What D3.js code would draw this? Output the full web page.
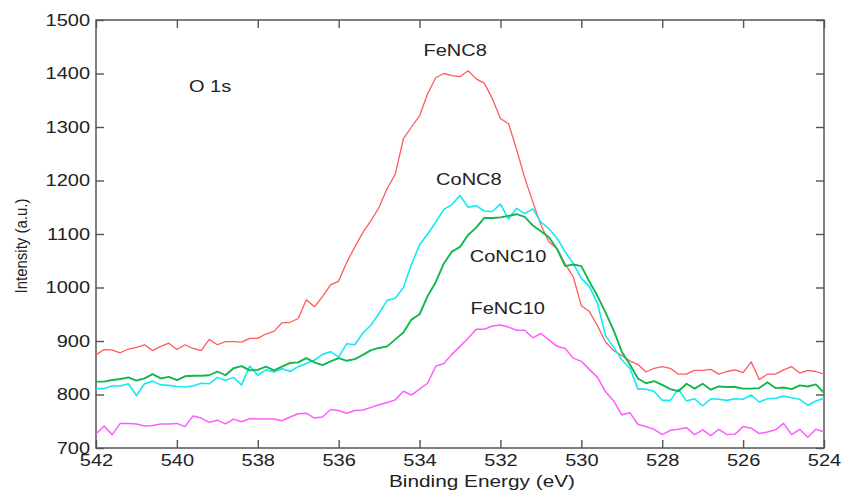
<!DOCTYPE html>
<html>
<head>
<meta charset="utf-8">
<script src="https://cdn.jsdelivr.net/npm/d3@7"></script>
<style>
  html, body { margin: 0; padding: 0; background: #fff; }
  svg { display: block; }
  text { font-family: "Liberation Sans", Arial, sans-serif; fill: #222; }
</style>
</head>
<body>
<svg id="chart" width="850" height="494"></svg>
<script>
// Binding energy (eV), 0.2 eV steps
const energy = [
  542.0,541.8,541.6,541.4,541.2,541.0,540.8,540.6,540.4,540.2,
  540.0,539.8,539.6,539.4,539.2,539.0,538.8,538.6,538.4,538.2,
  538.0,537.8,537.6,537.4,537.2,537.0,536.8,536.6,536.4,536.2,
  536.0,535.8,535.6,535.4,535.2,535.0,534.8,534.6,534.4,534.2,
  534.0,533.8,533.6,533.4,533.2,533.0,532.8,532.6,532.4,532.2,
  532.0,531.8,531.6,531.4,531.2,531.0,530.8,530.6,530.4,530.2,
  530.0,529.8,529.6,529.4,529.2,529.0,528.8,528.6,528.4,528.2,
  528.0,527.8,527.6,527.4,527.2,527.0,526.8,526.6,526.4,526.2,
  526.0,525.8,525.6,525.4,525.2,525.0,524.8,524.6,524.4,524.2,
  524.0
];

const feNC8 = [
  874,884,883,878,885,888,893,882,890,896,
  884,893,886,882,903,893,899,899,898,905,
  905,913,918,934,935,942,977,964,983,1005,
  1012,1047,1076,1103,1125,1150,1185,1212,1278,1300,
  1321,1362,1392,1400,1396,1394,1405,1390,1382,1353,
  1316,1306,1258,1205,1160,1117,1085,1073,1044,1020,
  966,955,928,898,882,873,863,856,842,849,
  852,849,838,838,845,845,847,838,843,846,
  841,861,828,838,838,846,852,840,845,843,
  838
];

const coNC8 = [
  811,811,816,816,820,798,820,825,818,817,
  815,814,816,821,820,832,826,832,818,853,
  836,846,842,848,843,852,858,864,875,880,
  870,895,893,915,930,952,976,980,1000,1043,
  1080,1100,1122,1146,1155,1172,1150,1153,1143,1142,
  1156,1128,1148,1138,1147,1122,1110,1092,1067,1045,
  1017,1002,970,910,888,865,849,810,810,806,
  789,789,810,788,792,779,792,791,789,792,
  791,799,786,792,793,797,794,791,780,788,
  793
];

const coNC10 = [
  824,824,827,829,832,826,830,838,830,833,
  827,834,835,835,836,843,836,849,853,845,
  846,852,845,852,859,860,868,860,855,862,
  868,863,866,874,883,887,890,903,916,940,
  950,984,1010,1045,1067,1076,1098,1112,1130,1130,
  1131,1134,1137,1132,1116,1105,1094,1072,1040,1043,
  1040,1011,984,953,920,880,856,830,821,825,
  818,810,806,820,811,820,809,815,814,814,
  811,811,812,823,812,813,810,817,815,819,
  803
];

const feNC10 = [
  726,741,725,746,746,745,741,742,745,745,
  746,740,760,756,748,752,745,754,749,755,
  754,754,754,751,758,764,765,756,758,772,
  770,765,770,771,776,781,785,790,806,799,
  810,821,853,858,875,890,905,922,922,928,
  930,926,920,920,906,914,902,890,886,868,
  862,847,832,805,788,762,766,744,740,735,
  725,733,735,738,725,734,723,735,725,726,
  740,737,727,730,734,746,725,735,720,735,
  730
];

const seriesNames = ["FeNC8", "CoNC8", "CoNC10", "FeNC10"];
const seriesValues = [feNC8, coNC8, coNC10, feNC10];
const seriesColors = ["#ff5b5b", "#14e8f5", "#12b74c", "#ff5cff"];
const seriesWidths = [1.3, 1.6, 1.9, 1.5];

const xTicks = [542, 540, 538, 536, 534, 532, 530, 528, 526, 524];
const yTicks = [700, 800, 900, 1000, 1100, 1200, 1300, 1400, 1500];

// annotation anchors (energy, intensity) of each label's baseline centre
const labels = [
  { text: "O 1s",   e: 539.18, v: 1365 },
  { text: "FeNC8",  e: 533.12, v: 1433 },
  { text: "CoNC8",  e: 532.78, v: 1192 },
  { text: "CoNC10", e: 531.81, v: 1048 },
  { text: "FeNC10", e: 531.82, v: 950 }
];

// ---- layout ----
const L = 96, R = 824, T = 20, B = 448;
const SX = 1.25; // horizontal text stretch of the reference
const svg = d3.select("#chart");

const x = d3.scaleLinear().domain([542, 524]).range([L, R]);
const y = d3.scaleLinear().domain([700, 1500]).range([B, T]);

const axisColor = "#555";

// bottom axis
const gB = svg.append("g").attr("transform", `translate(0,${B})`)
  .call(d3.axisBottom(x).tickValues(xTicks).tickSizeInner(-8).tickSizeOuter(0).tickPadding(7).tickFormat(d3.format("d")));
// top axis
const gT = svg.append("g").attr("transform", `translate(0,${T})`)
  .call(d3.axisTop(x).tickValues(xTicks).tickSizeInner(-8).tickSizeOuter(0).tickFormat(""));
// left axis
const gL = svg.append("g").attr("transform", `translate(${L},0)`)
  .call(d3.axisLeft(y).tickValues(yTicks).tickSizeInner(-8).tickSizeOuter(0).tickPadding(6).tickFormat(d3.format("d")));
// right axis
const gR = svg.append("g").attr("transform", `translate(${R},0)`)
  .call(d3.axisRight(y).tickValues(yTicks).tickSizeInner(-8).tickSizeOuter(0).tickFormat(""));

[gB, gT, gL, gR].forEach(g => {
  g.select(".domain").remove();
  g.selectAll(".tick line").attr("stroke", axisColor).attr("stroke-width", 1.4);
  g.selectAll(".tick text")
    .style("font-family", '"Liberation Sans", Arial, sans-serif')
    .style("font-size", "16px")
    .attr("fill", "#2a2a2a");
});
gB.selectAll(".tick text").attr("transform", `scale(${SX},1)`);
gL.selectAll(".tick text").attr("x", -6 / SX).attr("transform", `scale(${SX},1)`);

// frame
svg.append("rect")
  .attr("x", L).attr("y", T).attr("width", R - L).attr("height", B - T)
  .attr("fill", "none").attr("stroke", axisColor).attr("stroke-width", 1.5);

// lines
const line = d3.line().x((d, i) => x(energy[i])).y(d => y(d));
seriesValues.forEach((vals, k) => {
  svg.append("path")
    .datum(vals)
    .attr("d", line)
    .attr("fill", "none")
    .attr("stroke", seriesColors[k])
    .attr("stroke-width", seriesWidths[k])
    .attr("stroke-linejoin", "round");
});

// annotations
labels.forEach(l => {
  svg.append("text")
    .attr("transform", `translate(${x(l.e)},${y(l.v)}) scale(${SX},1)`)
    .attr("text-anchor", "middle")
    .style("font-size", "16px")
    .text(l.text);
});

// axis titles
svg.append("text")
  .attr("transform", `translate(${(L + R) / 2 + 22},487) scale(1.3,1)`)
  .attr("text-anchor", "middle")
  .style("font-size", "16px")
  .text("Binding Energy (eV)");

svg.append("text")
  .attr("transform", `translate(27,246) scale(1.15,1) rotate(-90)`)
  .attr("text-anchor", "middle")
  .style("font-size", "15px")
  .text("Intensity (a.u.)");
</script>
</body>
</html>
